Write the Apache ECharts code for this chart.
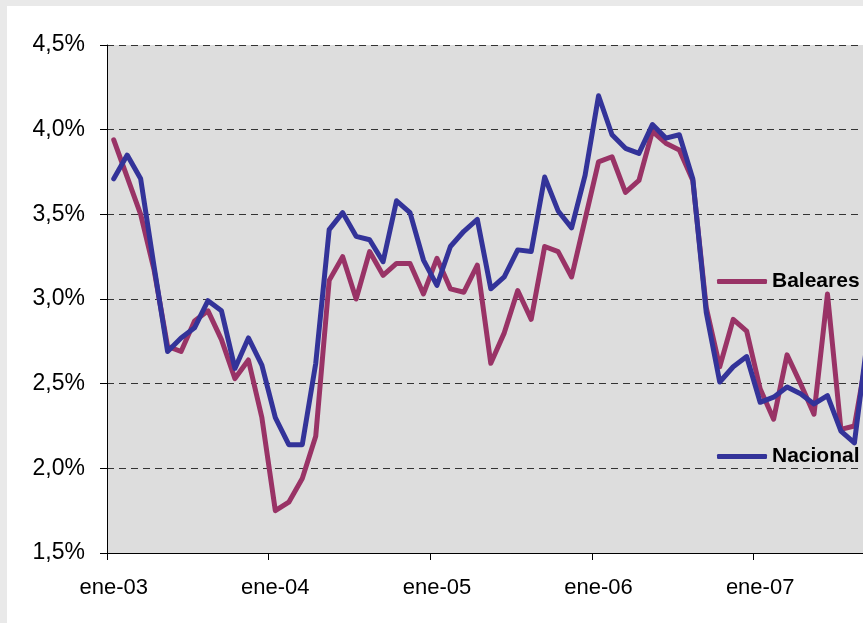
<!DOCTYPE html>
<html>
<head>
<meta charset="utf-8">
<script src="https://cdn.jsdelivr.net/npm/echarts@6/dist/echarts.min.js"></script>
<style>
  html, body { margin: 0; padding: 0; background: #e9e9e9; overflow: hidden; width: 863px; height: 623px; }
  #chart { position: absolute; left: 7px; top: 6px; width: 950px; height: 617px; }
</style>
</head>
<body>
<div id="chart"></div>
<script>
// Month names and years used to build the category axis
var monthNames = ['ene','feb','mar','abr','may','jun','jul','ago','sep','oct','nov','dic'];
var years = ['03','04','05','06','07'];

// Y-axis ticks
var yMin = 1.5, yMax = 4.5, yStep = 0.5;

// Series values (%), monthly from ene-03
var baleares = [3.94, 3.72, 3.50, 3.17, 2.72, 2.69, 2.87, 2.93, 2.76, 2.53, 2.64, 2.30,
                1.75, 1.80, 1.94, 2.19, 3.11, 3.25, 3.00, 3.28, 3.14, 3.21, 3.21, 3.03,
                3.24, 3.06, 3.04, 3.20, 2.62, 2.80, 3.05, 2.88, 3.31, 3.28, 3.13, 3.47,
                3.81, 3.84, 3.63, 3.70, 3.99, 3.92, 3.88, 3.70, 2.95, 2.60, 2.88, 2.81,
                2.47, 2.29, 2.67, 2.50, 2.32, 3.03, 2.23, 2.25, 2.70];
var nacional = [3.71, 3.85, 3.71, 3.19, 2.69, 2.77, 2.83, 2.99, 2.93, 2.59, 2.77, 2.61,
                2.30, 2.14, 2.14, 2.62, 3.41, 3.51, 3.37, 3.35, 3.22, 3.58, 3.51, 3.23,
                3.08, 3.31, 3.40, 3.47, 3.06, 3.13, 3.29, 3.28, 3.72, 3.52, 3.42, 3.73,
                4.20, 3.97, 3.89, 3.86, 4.03, 3.95, 3.97, 3.71, 2.92, 2.51, 2.60, 2.66,
                2.39, 2.42, 2.48, 2.44, 2.38, 2.43, 2.22, 2.15, 2.78];

var categories = [];
years.forEach(function (y) { monthNames.forEach(function (m) { categories.push(m + '-' + y); }); });

var FONT = 'Liberation Sans, Arial, Helvetica, sans-serif';
var chart = echarts.init(document.getElementById('chart'), null, { renderer: 'canvas' });
chart.setOption({
  backgroundColor: '#ffffff',
  animation: false,
  grid: { left: 100, top: 39, width: 808, height: 508, show: true, backgroundColor: '#dddddd', borderWidth: 0 },
  legend: [
    { data: ['Baleares'], left: 710, top: 265, padding: 0, icon: 'roundRect', itemWidth: 50, itemHeight: 5, itemGap: 5,
      textStyle: { fontFamily: FONT, fontSize: 21, fontWeight: 'bold', color: '#000' } },
    { data: ['Nacional'], left: 710, top: 440, padding: 0, icon: 'roundRect', itemWidth: 50, itemHeight: 5, itemGap: 5,
      textStyle: { fontFamily: FONT, fontSize: 21, fontWeight: 'bold', color: '#000' } }
  ],
  xAxis: {
    type: 'category', data: categories, boundaryGap: true,
    axisLine: { lineStyle: { color: '#000', width: 1 } },
    axisTick: { show: true, interval: 11, length: 7, lineStyle: { color: '#000' } },
    axisLabel: { interval: 11, margin: 24, fontFamily: FONT, fontSize: 22, color: '#000' },
    splitLine: { show: false }
  },
  yAxis: {
    type: 'value', min: yMin, max: yMax, interval: yStep,
    axisLine: { show: true, lineStyle: { color: '#000', width: 1 } },
    axisTick: { show: true, length: 7, lineStyle: { color: '#000' } },
    axisLabel: { margin: 22, padding: [5, 0, 0, 0], fontFamily: FONT, fontSize: 23, color: '#000',
      formatter: function (v) { return v.toFixed(1).replace('.', ',') + '%'; } },
    splitLine: { show: true, lineStyle: { color: '#333', width: 1, type: [7, 5] } }
  },
  series: [
    { name: 'Baleares', type: 'line', data: baleares, symbol: 'none', color: '#993366',
      lineStyle: { width: 5, color: '#993366', join: 'round', cap: 'round' } },
    { name: 'Nacional', type: 'line', data: nacional, symbol: 'none', color: '#333399',
      lineStyle: { width: 5, color: '#333399', join: 'round', cap: 'round' } }
  ]
});
</script>
</body>
</html>
